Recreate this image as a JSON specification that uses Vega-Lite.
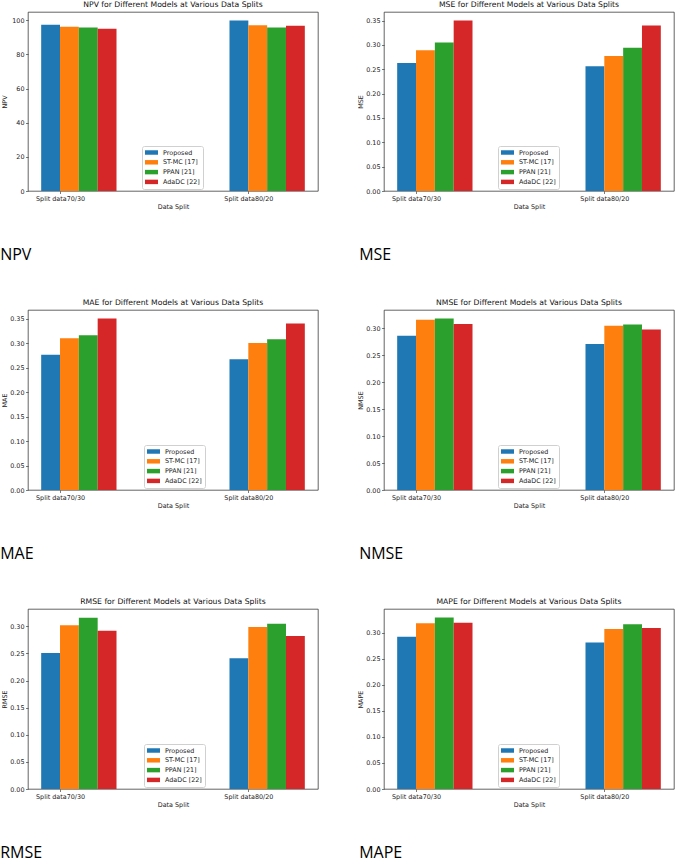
{
  "$schema": "https://vega.github.io/schema/vega-lite/v6.json",
  "padding": {"left": 0, "top": 0, "right": 0, "bottom": 0},
  "data": {"values": [
    {"metric": "NPV", "split": "Split data70/30", "model": "Proposed", "value": 97.5},
    {"metric": "NPV", "split": "Split data70/30", "model": "ST-MC [17]", "value": 96.2},
    {"metric": "NPV", "split": "Split data70/30", "model": "PPAN [21]", "value": 95.8},
    {"metric": "NPV", "split": "Split data70/30", "model": "AdaDC [22]", "value": 95.1},
    {"metric": "NPV", "split": "Split data80/20", "model": "Proposed", "value": 99.9},
    {"metric": "NPV", "split": "Split data80/20", "model": "ST-MC [17]", "value": 97.2},
    {"metric": "NPV", "split": "Split data80/20", "model": "PPAN [21]", "value": 95.8},
    {"metric": "NPV", "split": "Split data80/20", "model": "AdaDC [22]", "value": 96.8},
    {"metric": "MSE", "split": "Split data70/30", "model": "Proposed", "value": 0.263},
    {"metric": "MSE", "split": "Split data70/30", "model": "ST-MC [17]", "value": 0.289},
    {"metric": "MSE", "split": "Split data70/30", "model": "PPAN [21]", "value": 0.305},
    {"metric": "MSE", "split": "Split data70/30", "model": "AdaDC [22]", "value": 0.35},
    {"metric": "MSE", "split": "Split data80/20", "model": "Proposed", "value": 0.256},
    {"metric": "MSE", "split": "Split data80/20", "model": "ST-MC [17]", "value": 0.277},
    {"metric": "MSE", "split": "Split data80/20", "model": "PPAN [21]", "value": 0.294},
    {"metric": "MSE", "split": "Split data80/20", "model": "AdaDC [22]", "value": 0.34},
    {"metric": "MAE", "split": "Split data70/30", "model": "Proposed", "value": 0.276},
    {"metric": "MAE", "split": "Split data70/30", "model": "ST-MC [17]", "value": 0.31},
    {"metric": "MAE", "split": "Split data70/30", "model": "PPAN [21]", "value": 0.316},
    {"metric": "MAE", "split": "Split data70/30", "model": "AdaDC [22]", "value": 0.35},
    {"metric": "MAE", "split": "Split data80/20", "model": "Proposed", "value": 0.267},
    {"metric": "MAE", "split": "Split data80/20", "model": "ST-MC [17]", "value": 0.3},
    {"metric": "MAE", "split": "Split data80/20", "model": "PPAN [21]", "value": 0.308},
    {"metric": "MAE", "split": "Split data80/20", "model": "AdaDC [22]", "value": 0.34},
    {"metric": "NMSE", "split": "Split data70/30", "model": "Proposed", "value": 0.286},
    {"metric": "NMSE", "split": "Split data70/30", "model": "ST-MC [17]", "value": 0.316},
    {"metric": "NMSE", "split": "Split data70/30", "model": "PPAN [21]", "value": 0.318},
    {"metric": "NMSE", "split": "Split data70/30", "model": "AdaDC [22]", "value": 0.308},
    {"metric": "NMSE", "split": "Split data80/20", "model": "Proposed", "value": 0.271},
    {"metric": "NMSE", "split": "Split data80/20", "model": "ST-MC [17]", "value": 0.305},
    {"metric": "NMSE", "split": "Split data80/20", "model": "PPAN [21]", "value": 0.307},
    {"metric": "NMSE", "split": "Split data80/20", "model": "AdaDC [22]", "value": 0.298},
    {"metric": "RMSE", "split": "Split data70/30", "model": "Proposed", "value": 0.251},
    {"metric": "RMSE", "split": "Split data70/30", "model": "ST-MC [17]", "value": 0.302},
    {"metric": "RMSE", "split": "Split data70/30", "model": "PPAN [21]", "value": 0.316},
    {"metric": "RMSE", "split": "Split data70/30", "model": "AdaDC [22]", "value": 0.292},
    {"metric": "RMSE", "split": "Split data80/20", "model": "Proposed", "value": 0.241},
    {"metric": "RMSE", "split": "Split data80/20", "model": "ST-MC [17]", "value": 0.299},
    {"metric": "RMSE", "split": "Split data80/20", "model": "PPAN [21]", "value": 0.305},
    {"metric": "RMSE", "split": "Split data80/20", "model": "AdaDC [22]", "value": 0.282},
    {"metric": "MAPE", "split": "Split data70/30", "model": "Proposed", "value": 0.292},
    {"metric": "MAPE", "split": "Split data70/30", "model": "ST-MC [17]", "value": 0.318},
    {"metric": "MAPE", "split": "Split data70/30", "model": "PPAN [21]", "value": 0.329},
    {"metric": "MAPE", "split": "Split data70/30", "model": "AdaDC [22]", "value": 0.319},
    {"metric": "MAPE", "split": "Split data80/20", "model": "Proposed", "value": 0.281},
    {"metric": "MAPE", "split": "Split data80/20", "model": "ST-MC [17]", "value": 0.307},
    {"metric": "MAPE", "split": "Split data80/20", "model": "PPAN [21]", "value": 0.316},
    {"metric": "MAPE", "split": "Split data80/20", "model": "AdaDC [22]", "value": 0.309}
  ]},
  "spacing": 34,
  "vconcat": [
    {"hconcat": [
      {"title": {"text": "NPV", "orient": "bottom", "anchor": "start", "baseline": "alphabetic", "font": "Open Sans", "fontSize": 16, "fontWeight": "normal", "color": "#000", "offset": 50, "dx": -1},
       "resolve": {"scale": {"color": "independent"}, "legend": {"color": "independent"}},
       "vconcat": [{
        "width": 290, "height": 179,
        "title": {"text": "NPV for Different Models at Various Data Splits"},
        "transform": [{"filter": "datum.metric === 'NPV'"}],
        "mark": {"type": "bar"},
        "encoding": {
          "x": {"field": "split", "type": "nominal", "scale": {"paddingInner": 0.6, "paddingOuter": 0.07}, "axis": {"title": "Data Split", "labelAngle": 0, "tickOffset": -18.8}},
          "xOffset": {"field": "model", "type": "nominal", "sort": ["Proposed", "ST-MC [17]", "PPAN [21]", "AdaDC [22]"], "scale": {"paddingInner": 0, "paddingOuter": 0}},
          "y": {"field": "value", "type": "quantitative", "scale": {"domain": [0, 104.9], "nice": false}, "axis": {"title": "NPV", "values": [0, 20, 40, 60, 80, 100], "format": "d"}},
          "color": {"field": "model", "type": "nominal", "sort": ["Proposed", "ST-MC [17]", "PPAN [21]", "AdaDC [22]"], "scale": {"domain": ["Proposed", "ST-MC [17]", "PPAN [21]", "AdaDC [22]"], "range": ["#1f77b4", "#ff7f0e", "#2ca02c", "#d62728"]}, "legend": {"legendX": 114, "legendY": 134}}
        }
      }]},
      {"title": {"text": "MSE", "orient": "bottom", "anchor": "start", "baseline": "alphabetic", "font": "Open Sans", "fontSize": 16, "fontWeight": "normal", "color": "#000", "offset": 50, "dx": 2},
       "resolve": {"scale": {"color": "independent"}, "legend": {"color": "independent"}},
       "vconcat": [{
        "width": 290, "height": 179,
        "title": {"text": "MSE for Different Models at Various Data Splits"},
        "transform": [{"filter": "datum.metric === 'MSE'"}],
        "mark": {"type": "bar"},
        "encoding": {
          "x": {"field": "split", "type": "nominal", "scale": {"paddingInner": 0.6, "paddingOuter": 0.07}, "axis": {"title": "Data Split", "labelAngle": 0, "tickOffset": -18.8}},
          "xOffset": {"field": "model", "type": "nominal", "sort": ["Proposed", "ST-MC [17]", "PPAN [21]", "AdaDC [22]"], "scale": {"paddingInner": 0, "paddingOuter": 0}},
          "y": {"field": "value", "type": "quantitative", "scale": {"domain": [0, 0.3675], "nice": false}, "axis": {"title": "MSE", "values": [0, 0.05, 0.1, 0.15, 0.2, 0.25, 0.3, 0.35], "format": ".2f"}},
          "color": {"field": "model", "type": "nominal", "sort": ["Proposed", "ST-MC [17]", "PPAN [21]", "AdaDC [22]"], "scale": {"domain": ["Proposed", "ST-MC [17]", "PPAN [21]", "AdaDC [22]"], "range": ["#1f77b4", "#ff7f0e", "#2ca02c", "#d62728"]}, "legend": {"legendX": 114, "legendY": 134}}
        }
      }]}
    ], "spacing": 38, "resolve": {"scale": {"color": "independent"}, "legend": {"color": "independent"}}},
    {"hconcat": [
      {"title": {"text": "MAE", "orient": "bottom", "anchor": "start", "baseline": "alphabetic", "font": "Open Sans", "fontSize": 16, "fontWeight": "normal", "color": "#000", "offset": 50, "dx": -1},
       "resolve": {"scale": {"color": "independent"}, "legend": {"color": "independent"}},
       "vconcat": [{
        "width": 290, "height": 180,
        "title": {"text": "MAE for Different Models at Various Data Splits"},
        "transform": [{"filter": "datum.metric === 'MAE'"}],
        "mark": {"type": "bar"},
        "encoding": {
          "x": {"field": "split", "type": "nominal", "scale": {"paddingInner": 0.6, "paddingOuter": 0.07}, "axis": {"title": "Data Split", "labelAngle": 0, "tickOffset": -18.8}},
          "xOffset": {"field": "model", "type": "nominal", "sort": ["Proposed", "ST-MC [17]", "PPAN [21]", "AdaDC [22]"], "scale": {"paddingInner": 0, "paddingOuter": 0}},
          "y": {"field": "value", "type": "quantitative", "scale": {"domain": [0, 0.3675], "nice": false}, "axis": {"title": "MAE", "values": [0, 0.05, 0.1, 0.15, 0.2, 0.25, 0.3, 0.35], "format": ".2f"}},
          "color": {"field": "model", "type": "nominal", "sort": ["Proposed", "ST-MC [17]", "PPAN [21]", "AdaDC [22]"], "scale": {"domain": ["Proposed", "ST-MC [17]", "PPAN [21]", "AdaDC [22]"], "range": ["#1f77b4", "#ff7f0e", "#2ca02c", "#d62728"]}, "legend": {"legendX": 116, "legendY": 135}}
        }
      }]},
      {"title": {"text": "NMSE", "orient": "bottom", "anchor": "start", "baseline": "alphabetic", "font": "Open Sans", "fontSize": 16, "fontWeight": "normal", "color": "#000", "offset": 50, "dx": 2},
       "resolve": {"scale": {"color": "independent"}, "legend": {"color": "independent"}},
       "vconcat": [{
        "width": 290, "height": 180,
        "title": {"text": "NMSE for Different Models at Various Data Splits"},
        "transform": [{"filter": "datum.metric === 'NMSE'"}],
        "mark": {"type": "bar"},
        "encoding": {
          "x": {"field": "split", "type": "nominal", "scale": {"paddingInner": 0.6, "paddingOuter": 0.07}, "axis": {"title": "Data Split", "labelAngle": 0, "tickOffset": -18.8}},
          "xOffset": {"field": "model", "type": "nominal", "sort": ["Proposed", "ST-MC [17]", "PPAN [21]", "AdaDC [22]"], "scale": {"paddingInner": 0, "paddingOuter": 0}},
          "y": {"field": "value", "type": "quantitative", "scale": {"domain": [0, 0.334], "nice": false}, "axis": {"title": "NMSE", "values": [0, 0.05, 0.1, 0.15, 0.2, 0.25, 0.3], "format": ".2f"}},
          "color": {"field": "model", "type": "nominal", "sort": ["Proposed", "ST-MC [17]", "PPAN [21]", "AdaDC [22]"], "scale": {"domain": ["Proposed", "ST-MC [17]", "PPAN [21]", "AdaDC [22]"], "range": ["#1f77b4", "#ff7f0e", "#2ca02c", "#d62728"]}, "legend": {"legendX": 114, "legendY": 135}}
        }
      }]}
    ], "spacing": 38, "resolve": {"scale": {"color": "independent"}, "legend": {"color": "independent"}}},
    {"hconcat": [
      {"title": {"text": "RMSE", "orient": "bottom", "anchor": "start", "baseline": "alphabetic", "font": "Open Sans", "fontSize": 16, "fontWeight": "normal", "color": "#000", "offset": 50, "dx": -1},
       "resolve": {"scale": {"color": "independent"}, "legend": {"color": "independent"}},
       "vconcat": [{
        "width": 290, "height": 180,
        "title": {"text": "RMSE for Different Models at Various Data Splits"},
        "transform": [{"filter": "datum.metric === 'RMSE'"}],
        "mark": {"type": "bar"},
        "encoding": {
          "x": {"field": "split", "type": "nominal", "scale": {"paddingInner": 0.6, "paddingOuter": 0.07}, "axis": {"title": "Data Split", "labelAngle": 0, "tickOffset": -18.8}},
          "xOffset": {"field": "model", "type": "nominal", "sort": ["Proposed", "ST-MC [17]", "PPAN [21]", "AdaDC [22]"], "scale": {"paddingInner": 0, "paddingOuter": 0}},
          "y": {"field": "value", "type": "quantitative", "scale": {"domain": [0, 0.332], "nice": false}, "axis": {"title": "RMSE", "values": [0, 0.05, 0.1, 0.15, 0.2, 0.25, 0.3], "format": ".2f"}},
          "color": {"field": "model", "type": "nominal", "sort": ["Proposed", "ST-MC [17]", "PPAN [21]", "AdaDC [22]"], "scale": {"domain": ["Proposed", "ST-MC [17]", "PPAN [21]", "AdaDC [22]"], "range": ["#1f77b4", "#ff7f0e", "#2ca02c", "#d62728"]}, "legend": {"legendX": 116, "legendY": 135}}
        }
      }]},
      {"title": {"text": "MAPE", "orient": "bottom", "anchor": "start", "baseline": "alphabetic", "font": "Open Sans", "fontSize": 16, "fontWeight": "normal", "color": "#000", "offset": 50, "dx": 2},
       "resolve": {"scale": {"color": "independent"}, "legend": {"color": "independent"}},
       "vconcat": [{
        "width": 290, "height": 180,
        "title": {"text": "MAPE for Different Models at Various Data Splits"},
        "transform": [{"filter": "datum.metric === 'MAPE'"}],
        "mark": {"type": "bar"},
        "encoding": {
          "x": {"field": "split", "type": "nominal", "scale": {"paddingInner": 0.6, "paddingOuter": 0.07}, "axis": {"title": "Data Split", "labelAngle": 0, "tickOffset": -18.8}},
          "xOffset": {"field": "model", "type": "nominal", "sort": ["Proposed", "ST-MC [17]", "PPAN [21]", "AdaDC [22]"], "scale": {"paddingInner": 0, "paddingOuter": 0}},
          "y": {"field": "value", "type": "quantitative", "scale": {"domain": [0, 0.3455], "nice": false}, "axis": {"title": "MAPE", "values": [0, 0.05, 0.1, 0.15, 0.2, 0.25, 0.3], "format": ".2f"}},
          "color": {"field": "model", "type": "nominal", "sort": ["Proposed", "ST-MC [17]", "PPAN [21]", "AdaDC [22]"], "scale": {"domain": ["Proposed", "ST-MC [17]", "PPAN [21]", "AdaDC [22]"], "range": ["#1f77b4", "#ff7f0e", "#2ca02c", "#d62728"]}, "legend": {"legendX": 114, "legendY": 135}}
        }
      }]}
    ], "spacing": 38, "resolve": {"scale": {"color": "independent"}, "legend": {"color": "independent"}}}
  ],
  "resolve": {"scale": {"color": "independent", "y": "independent", "x": "independent"}, "legend": {"color": "independent"}},
  "config": {
    "font": "DejaVu Sans",
    "background": "white",
    "view": {"stroke": "#222", "strokeWidth": 0.7},
    "axis": {"grid": false, "domain": false, "labelFont": "DejaVu Sans", "labelFontSize": 6.4, "labelColor": "#222", "titleFont": "DejaVu Sans", "titleFontSize": 6.4, "titleFontWeight": "normal", "titleColor": "#222", "tickColor": "#222", "tickSize": 2.5, "tickWidth": 0.6, "labelPadding": 1.5},
    "axisX": {"titlePadding": 2},
    "axisY": {"titleX": -20.5},
    "title": {"font": "DejaVu Sans", "fontSize": 7.7, "fontWeight": "normal", "color": "#111", "offset": 3},
    "legend": {"orient": "none", "title": null, "labelFont": "DejaVu Sans", "labelFontSize": 6.4, "labelColor": "#222", "symbolType": "M-1,-0.64L2.71,-0.64L2.71,0.64L-1,0.64Z", "symbolSize": 49, "symbolStrokeWidth": 0, "symbolOpacity": 1, "labelOffset": 11, "rowPadding": 2.8, "padding": 3, "strokeColor": "#d0d0d0", "fillColor": "white", "cornerRadius": 2}
  }
}
